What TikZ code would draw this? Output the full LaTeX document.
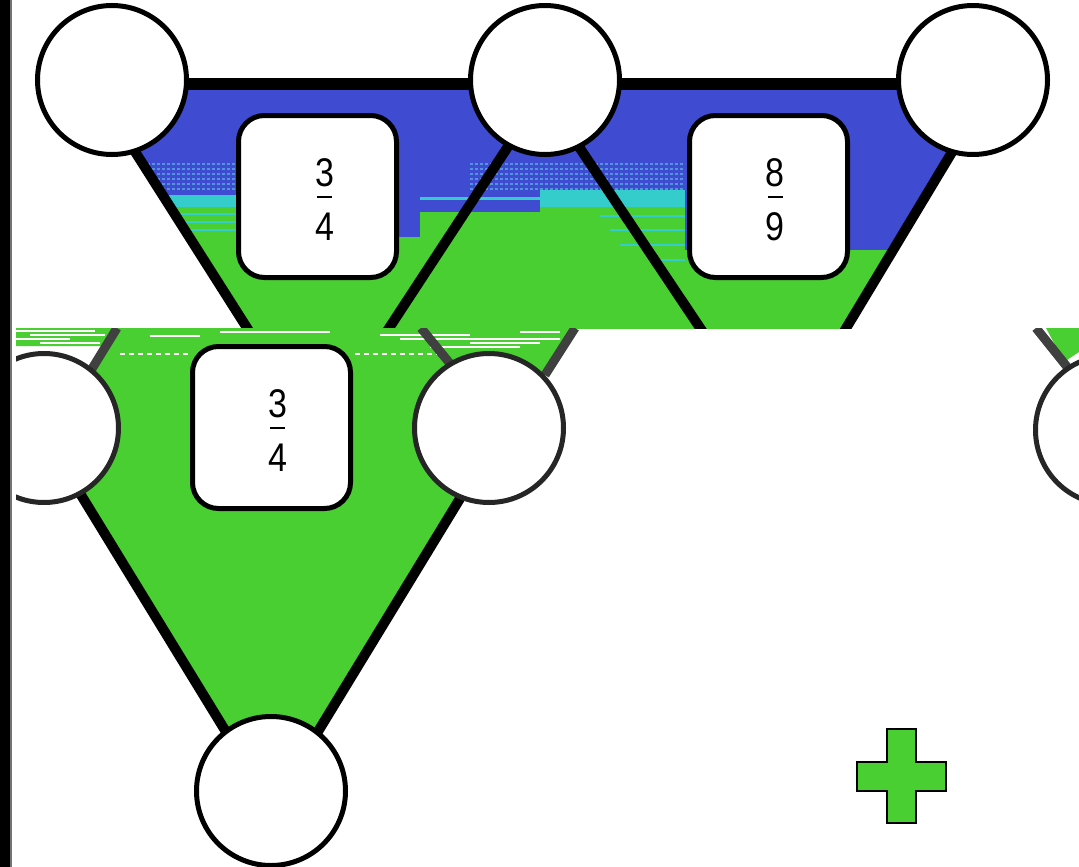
\documentclass[tikz,border=0pt]{standalone}
\usepackage{fontspec}
\setmainfont{Liberation Sans}
\usetikzlibrary{calc}
\definecolor{tblue}{RGB}{63,76,209}
\definecolor{tgreen}{RGB}{74,207,51}
\definecolor{tcyan}{RGB}{53,204,204}
\definecolor{lcyan}{RGB}{80,150,220}
\definecolor{dgray}{RGB}{64,64,64}
\tikzset{
  circ/.style={circle,draw=black,line width=5pt,fill=white,minimum size=149pt,inner sep=0pt},
  circg/.style={circ,draw=black!85},
  fracbox/.style={draw=black,line width=5pt,fill=white,rounded corners=26pt,minimum width=158pt,minimum height=162pt,inner sep=0pt},
  triedge/.style={line width=10pt,black},
  gedge/.style={line width=9pt,dgray},
  topbar/.style={line width=12pt,black},
  digit/.style={font=\fontsize{40}{40}\selectfont,inner sep=0pt,xscale=0.85},
  fbar/.style={fill=black,minimum width=15pt,minimum height=2pt,inner sep=0pt},
  glitch/.style={white,line width=1.6pt},
  noise/.style={lcyan,line width=1.5pt,dash pattern=on 3pt off 2pt},
}
\begin{document}
\begin{tikzpicture}[x=1pt,y=-1pt]
\useasboundingbox (0,0) rectangle (1079,867);
\fill[white] (0,0) rectangle (1079,867);

% ---------------- top row ----------------
\begin{scope}
\clip (12,0) rectangle (1079,328);
\coordinate (a1) at (92,84);
\coordinate (b1) at (549,84);
\coordinate (p1) at (317,438);
\coordinate (a2) at (537,84);
\coordinate (b2) at (993,84);
\coordinate (p2) at (777,443);
\fill[tgreen] (a1) -- (b2) -- (p2) -- (p1) -- cycle;
\begin{scope}
\clip (a1) -- (b2) -- (p2) -- (p1) -- cycle;
\fill[tblue] (12,84) rectangle (236,195);
\fill[tcyan] (12,195) rectangle (236,207);
\fill[tblue] (236,84) rectangle (420,237);
\fill[tblue] (420,84) rectangle (540,212);
\fill[tcyan] (420,197) rectangle (540,200);
\fill[tblue] (540,84) rectangle (685,190);
\fill[tcyan] (540,190) rectangle (685,207);
\fill[tblue] (685,84) rectangle (993,250);
\foreach \yy in {164,169,174,179,184,189}{
  \draw[noise] (12,\yy) -- (236,\yy);
  \draw[noise] (470,\yy) -- (685,\yy);
}
\foreach \yy/\xa/\xb in {214/150/236,222/160/236,230/170/236,216/600/685,230/610/685,245/620/685,260/650/685}{
  \draw[tcyan,line width=1.2pt] (\xa,\yy) -- (\xb,\yy);
}
\end{scope}
\draw[triedge] (a1) -- (p1) -- (b1);
\draw[triedge] (a2) -- (p2) -- (b2);
\draw[topbar] (a1) -- (b2);
\node[circ] (c1) at (112,80) {};
\node[circ] (c2) at (545,80) {};
\node[circ] (c3) at (973,80) {};
\node[fracbox] (f1) at (317.5,196.5) {};
\node[fracbox] (f2) at (768.5,196.5) {};
\node[digit] (n1) at (324.5,172.5) {3};
\node[fbar] (r1) at (324.5,197) {};
\node[digit] (d1) at (324.5,226.3) {4};
\node[digit] (n2) at (775,172.5) {8};
\node[fbar] (r2) at (775,197) {};
\node[digit] (d2) at (775,226.3) {9};
\end{scope}

% ---------------- bottom row ----------------
\begin{scope}
\clip (16,328) rectangle (1079,867);
\coordinate (a3) at (40,428);
\coordinate (b3) at (503,428);
\coordinate (p3) at (272,807);
\fill[tgreen] (16,328) -- (575,328) -- (545,375) -- (b3) -- (p3) -- (a3) -- (92,370) -- (106,346) -- (16,346) -- cycle;
\fill[tgreen] (1046,328) -- (1079,328) -- (1079,352) -- (1064,362) -- cycle;
\foreach \yy/\xa/\xb in {331/16/95,335/30/105,339/16/70,343/40/100,332/220/330,336/150/200,335/380/470,339/400/560,343/470/540,347/430/520,332/520/560}{
  \draw[glitch] (\xa,\yy) -- (\xb,\yy);
}
\foreach \yy/\xa/\xb in {354/120/190,354/355/440}{
  \draw[white,line width=2pt,dash pattern=on 5pt off 4pt] (\xa,\yy) -- (\xb,\yy);
}
\draw[gedge] (117,328) -- (90,372);
\draw[gedge] (421,328) -- (452,366);
\draw[gedge] (575,328) -- (545,375);
\draw[gedge] (1036,328) -- (1068,368);
\draw[triedge] (a3) -- (p3) -- (b3);
\node[circg] (c4) at (44,428) {};
\node[circg] (c5) at (489,428) {};
\node[circg] (c7) at (1110,430) {};
\node[circ] (c6) at (271,791) {};
\node[fracbox] (f3) at (271.5,427.5) {};
\node[digit] (n3) at (277.5,403.5) {3};
\node[fbar] (r3) at (277.5,428) {};
\node[digit] (d3) at (277.5,457.3) {4};
\end{scope}

% ---------------- left bar ----------------
\fill[black] (0,0) rectangle (10,867);
\fill[black!55] (10,0) rectangle (11.5,867);

% ---------------- plus sign ----------------
\draw[fill=tgreen,line width=1.5pt] (887,729) -- (916,729) -- (916,762) -- (946,762) -- (946,791) -- (916,791) -- (916,823) -- (887,823) -- (887,791) -- (857,791) -- (857,762) -- (887,762) -- cycle;
\end{tikzpicture}
\end{document}
